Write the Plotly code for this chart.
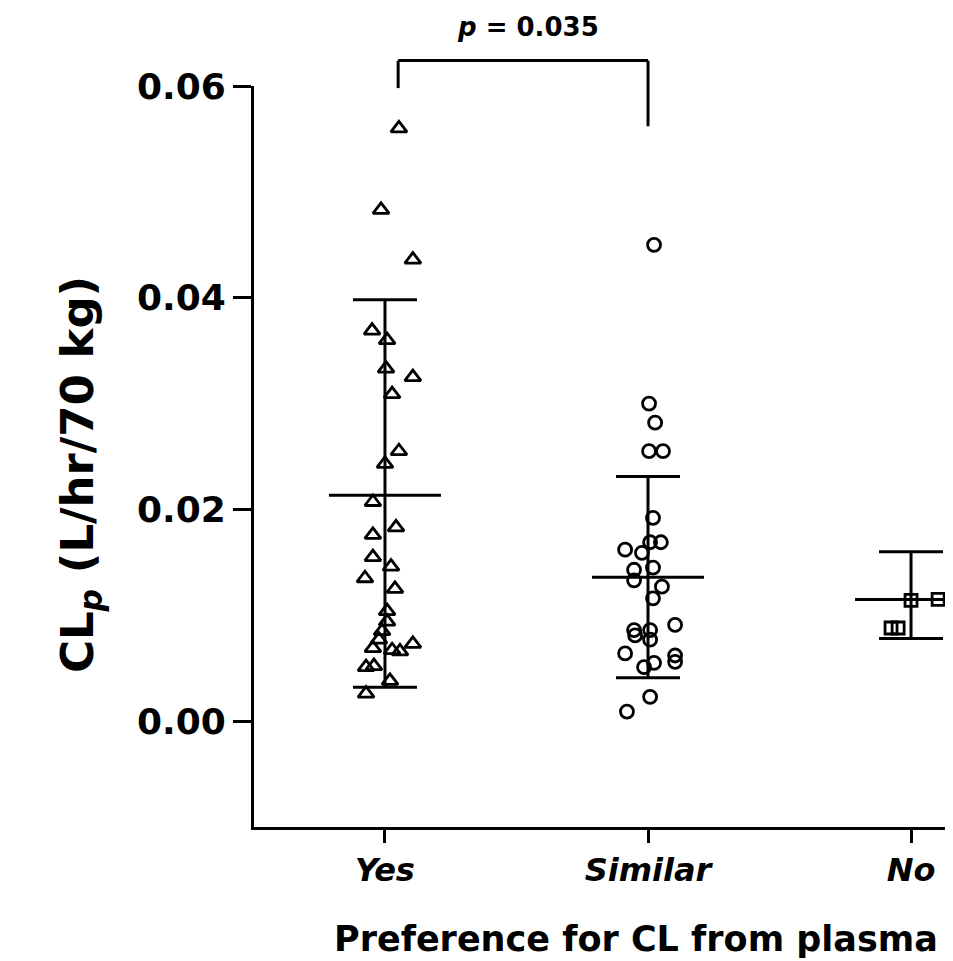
import plotly.graph_objects as go

categories = ["Yes", "Similar", "No"]

# individual points: horizontal jitter (category units) and CLp values
yes_jitter = [0.053, -0.015, 0.106, -0.049, 0.008, 0.004, 0.106, 0.027, 0.053, 0.0,
              -0.046, 0.042, -0.046, -0.046, 0.023, -0.076, 0.038, 0.008, 0.008, -0.011,
              -0.023, 0.106, -0.046, 0.027, 0.057, -0.072, -0.042, 0.019, -0.072]
yes_vals = [0.0560, 0.0483, 0.0436, 0.0369, 0.0360, 0.0333, 0.0325, 0.0309, 0.0255, 0.0243,
            0.0207, 0.0183, 0.0176, 0.0155, 0.0146, 0.0135, 0.0125, 0.0104, 0.0094, 0.0085,
            0.0077, 0.0073, 0.0069, 0.0067, 0.0066, 0.0051, 0.0052, 0.0038, 0.0026]

sim_jitter = [0.023, 0.004, 0.027, 0.004, 0.057, 0.019, 0.049, 0.008, -0.087, -0.023,
              0.019, -0.053, -0.053, 0.053, 0.019, 0.103, -0.053, 0.008, -0.049, 0.008,
              -0.087, 0.103, 0.103, 0.023, -0.015, 0.008, -0.080]
sim_vals = [0.0450, 0.0300, 0.0282, 0.0255, 0.0255, 0.0192, 0.0169, 0.0169, 0.0162, 0.0159,
            0.0145, 0.0143, 0.0133, 0.0127, 0.0116, 0.0091, 0.0086, 0.0086, 0.0081, 0.0077,
            0.0064, 0.0062, 0.0056, 0.0055, 0.0051, 0.0023, 0.0009]

no_jitter = [0.0, 0.103, -0.076, -0.049]
no_vals = [0.0114, 0.0115, 0.0088, 0.0088]

# summary: mean, upper and lower bar ends
means = [0.02135, 0.0136, 0.0115]
upper = [0.0398, 0.0231, 0.0160]
lower = [0.0032, 0.0041, 0.0078]

# significance bracket
bracket_x = [0.05, 1.0]
bracket_top = 0.0624
bracket_left_bottom = 0.0598
bracket_right_bottom = 0.0562
p_text = "<i>p</i> = 0.035"
p_y = 0.0656

y_range = [-0.01, 0.06]
x_range = [-0.498, 2.19]

FONT = "DejaVu Sans"

groups = [
    (yes_jitter, yes_vals, "triangle-up-open", 14),
    (sim_jitter, sim_vals, "circle-open", 13),
    (no_jitter, no_vals, "square-open", 12),
]

fig = go.Figure()
for i, (jit, vals, sym, sz) in enumerate(groups):
    fig.add_trace(go.Scatter(
        x=[i + j for j in jit], y=vals, mode="markers",
        marker=dict(symbol=sym, size=sz, color="black", line=dict(color="black", width=2.8)),
        showlegend=False, cliponaxis=False))

for i in range(3):
    fig.add_trace(go.Scatter(
        x=[i], y=[means[i]], mode="markers",
        marker=dict(symbol="line-ew", size=80, color="black", line=dict(color="black", width=3)),
        error_y=dict(type="data", symmetric=False,
                     array=[upper[i] - means[i]], arrayminus=[means[i] - lower[i]],
                     color="black", thickness=3, width=32),
        showlegend=False, cliponaxis=False))

def to_paper(v):
    return (v - y_range[0]) / (y_range[1] - y_range[0])

line_style = dict(color="black", width=3)
fig.add_shape(type="line", xref="x", yref="paper", x0=bracket_x[0], x1=bracket_x[1],
              y0=to_paper(bracket_top), y1=to_paper(bracket_top), line=line_style)
fig.add_shape(type="line", xref="x", yref="paper", x0=bracket_x[0], x1=bracket_x[0],
              y0=to_paper(bracket_top), y1=to_paper(bracket_left_bottom), line=line_style)
fig.add_shape(type="line", xref="x", yref="paper", x0=bracket_x[1], x1=bracket_x[1],
              y0=to_paper(bracket_top), y1=to_paper(bracket_right_bottom), line=line_style)

fig.add_annotation(text=p_text, xref="x", yref="paper", x=sum(bracket_x) / 2 + 0.02,
                   y=to_paper(p_y), showarrow=False, yanchor="middle",
                   font=dict(size=26, color="black", family=FONT, weight="bold"))

fig.add_annotation(text="Preference for CL from plasma", xref="paper", yref="paper",
                   x=0.54, y=0, yanchor="middle", yshift=-112, showarrow=False,
                   font=dict(size=35, color="black", family=FONT, weight="bold"))

# y-axis title as rotated annotation
fig.add_annotation(text="CL<sub><i>p</i></sub> (L/hr/70 kg)", xref="paper", yref="paper",
                   x=-0.246, y=0.475, textangle=-90, showarrow=False,
                   xanchor="center", yanchor="middle",
                   font=dict(size=45, color="black", family=FONT, weight="bold"))

fig.update_layout(
    width=953, height=961,
    margin=dict(l=246, r=0, t=78, b=142),
    paper_bgcolor="white", plot_bgcolor="white",
    font=dict(family=FONT, color="black"),
)
fig.update_xaxes(
    range=x_range, tickmode="array", tickvals=[0, 1, 2], ticktext=categories,
    showline=True, linecolor="black", linewidth=3, showgrid=False, zeroline=False,
    ticks="outside", ticklen=13, tickwidth=3, tickcolor="black",
    tickfont=dict(size=32, family=FONT, weight="bold", style="italic", color="black"),
)
fig.update_yaxes(
    range=y_range, tickmode="array", tickvals=[0, 0.02, 0.04, 0.06],
    ticktext=["0.00", "0.02", "0.04", "0.06"],
    showline=True, linecolor="black", linewidth=3, showgrid=False, zeroline=False,
    ticks="outside", ticklen=18, tickwidth=3, tickcolor="black",
    tickfont=dict(size=36, family=FONT, weight="bold", color="black"),
)

fig.write_html("out.html")
